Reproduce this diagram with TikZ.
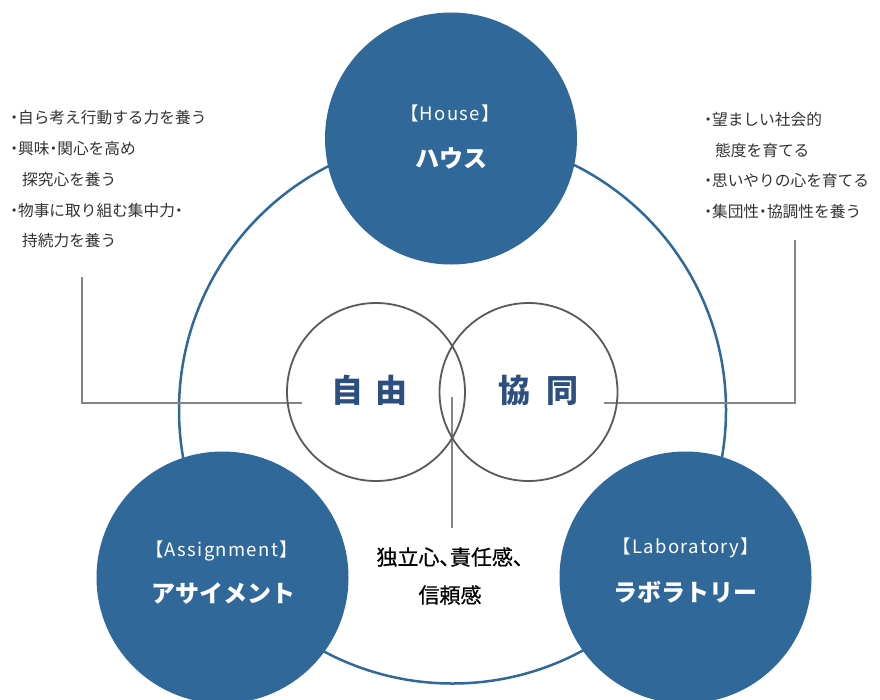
\documentclass[tikz,border=0pt]{standalone}
\usepackage{fontspec}
\setmainfont{Noto Sans CJK JP}
\newfontfamily\jpp[RawFeature=+palt]{Noto Sans CJK JP}
\newfontfamily\latw[LetterSpace=7]{Noto Sans CJK JP}
\newfontfamily\jpmed[FakeBold=0.6]{Noto Sans CJK JP}
\newfontfamily\jpmedp[FakeBold=0.6,RawFeature=+palt]{Noto Sans CJK JP}
\newcommand\bul{{\jpp ・}}
\newcommand\tou{{\jpmedp 、}}
\definecolor{mainblue}{HTML}{30689A}
\definecolor{navy}{HTML}{2C4E80}
\definecolor{ringgray}{HTML}{56595E}
\definecolor{linegray}{HTML}{858585}
\definecolor{txt}{HTML}{333333}
\tikzset{
  bigdisc/.style={circle,fill=mainblue,minimum size=252pt,inner sep=0pt},
  ring/.style={circle,draw=ringgray,line width=1.8pt,minimum size=178pt,inner sep=0pt},
  leader/.style={draw=linegray,line width=1.1pt},
  entxt/.style={text=white,font=\fontsize{18.5}{20}\latw,inner sep=0pt},
  jptxt/.style={text=white,font=\fontsize{24}{28}\selectfont\bfseries,inner sep=0pt},
  listtxt/.style={text=txt,font=\fontsize{15.7}{30.7}\selectfont,align=left,inner sep=0pt,anchor=north west},
  corelabel/.style={text=navy,font=\fontsize{32}{36}\selectfont\bfseries,inner sep=0pt}
}
\begin{document}
\begin{tikzpicture}[x=1pt,y=-1pt]
\useasboundingbox[fill=white] (0,0) rectangle (880,699);
% outer ring
\node[circle,draw=mainblue,line width=2.5pt,minimum size=547pt,inner sep=0pt] (outer) at (452.5,410) {};
% leader lines
\coordinate (lA) at (302,403);
\coordinate (lB) at (82,403);
\coordinate (lC) at (82,277);
\coordinate (rA) at (604,403);
\coordinate (rB) at (795,403);
\coordinate (rC) at (795,240);
\coordinate (cA) at (452,397);
\coordinate (cB) at (452,528);
\draw[leader] (lA) -- (lB) -- (lC);
\draw[leader] (rA) -- (rB) -- (rC);
\draw[leader] (cA) -- (cB);
% inner rings
\node[ring] (jiyu) at (376,392) {};
\node[ring] (kyodo) at (528.5,392) {};
\node[corelabel] (jiyuT) at (369,390) {自\hspace{12pt}由};
\node[corelabel] (kyodoT) at (538,390) {協\hspace{16pt}同};
% blue discs
\node[bigdisc] (house) at (451,138.5) {};
\node[bigdisc] (assign) at (222.5,577.5) {};
\node[bigdisc] (lab) at (685.5,577.5) {};
\node[entxt] (houseE) at (450,113) {【House】};
\node[jptxt] (houseJ) at (451,158) {ハウス};
\node[entxt] (assignE) at (221.5,551) {【Assignment】};
\node[jptxt] (assignJ) at (223,593) {アサイメント};
\node[entxt] (labE) at (686,548) {【Laboratory】};
\node[jptxt] (labJ) at (685,592) {ラボラトリー};
% lists
\node[listtxt] (leftlist) at (10,110.5) {\bul 自ら考え行動する力を養う\\\bul 興味\bul 関心を高め\\\hspace{12pt}探究心を養う\\\bul 物事に取り組む集中力\bul\\\hspace{12pt}持続力を養う};
\node[listtxt] (rightlist) at (704,112) {\bul 望ましい社会的\\\hspace{11pt}態度を育てる\\\bul 思いやりの心を育てる\\\bul 集団性\bul 協調性を養う};
\node[text=black,font=\fontsize{21}{38}\jpmed,align=center,inner sep=0pt] (center) at (450,576) {独立心\tou 責任感\tou\\信頼感};
\end{tikzpicture}
\end{document}
